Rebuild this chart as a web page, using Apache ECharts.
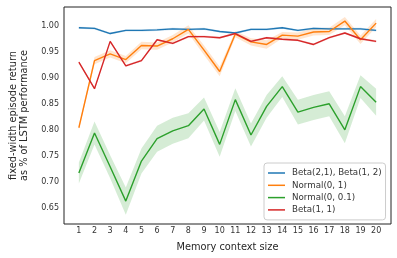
<!DOCTYPE html>
<html><head><meta charset="utf-8">
<script src="https://cdn.jsdelivr.net/npm/echarts@6/dist/echarts.min.js"></script>
<style>html,body{margin:0;padding:0;background:#fff}#c{width:397px;height:258px}</style>
</head><body><div id="c"></div>
<script>
const contextSizes = [1,2,3,4,5,6,7,8,9,10,11,12,13,14,15,16,17,18,19,20];
const xTicks = contextSizes;
const yTicks = [0.65,0.70,0.75,0.80,0.85,0.90,0.95,1.00];
const seriesNames = ['Beta(2,1), Beta(1, 2)','Normal(0, 1)','Normal(0, 0.1)','Beta(1, 1)'];
const betaAsym = [0.997,0.996,0.986,0.992,0.992,0.993,0.995,0.994,0.995,0.990,0.987,0.994,0.994,0.997,0.992,0.996,0.995,0.995,0.995,0.992];
const betaAsymCI = [0.002,0.002,0.002,0.002,0.002,0.002,0.002,0.002,0.002,0.002,0.002,0.002,0.002,0.002,0.002,0.002,0.002,0.002,0.002,0.002];
const normal1 = [0.805,0.934,0.947,0.936,0.963,0.962,0.976,0.994,0.954,0.913,0.985,0.970,0.965,0.983,0.981,0.989,0.990,1.010,0.974,1.006];
const normal1CI = [0.004,0.007,0.007,0.007,0.007,0.007,0.007,0.008,0.009,0.009,0.006,0.007,0.008,0.006,0.007,0.007,0.007,0.008,0.008,0.008];
const normal01 = [0.718,0.795,0.730,0.664,0.741,0.784,0.799,0.809,0.841,0.773,0.859,0.791,0.846,0.884,0.835,0.844,0.851,0.801,0.884,0.854];
const normal01CI = [0.020,0.022,0.022,0.026,0.024,0.025,0.025,0.024,0.022,0.024,0.022,0.022,0.022,0.020,0.024,0.024,0.024,0.026,0.022,0.026];
const beta11 = [0.931,0.880,0.971,0.924,0.934,0.974,0.967,0.980,0.980,0.978,0.986,0.971,0.978,0.975,0.973,0.965,0.978,0.987,0.976,0.971];
const beta11CI = [0.002,0.002,0.002,0.002,0.002,0.002,0.002,0.002,0.002,0.002,0.002,0.002,0.002,0.002,0.002,0.002,0.002,0.002,0.002,0.002];
const colors = ['#1f77b4','#ff7f0e','#2ca02c','#d62728'];

const means = [betaAsym, normal1, normal01, beta11];
const cis = [betaAsymCI, normal1CI, normal01CI, beta11CI];

const chart = echarts.init(document.getElementById('c'), null, {renderer:'canvas'});
const series = [];
means.forEach((m, k) => {
  const bandData = contextSizes.map((x, i) => [x, m[i] - cis[k][i], m[i] + cis[k][i]]);
  series.push({
    type: 'custom',
    name: seriesNames[k] + ' ci',
    z: 1,
    silent: true,
    data: bandData,
    encode: {x: 0, y: [1, 2]},
    renderItem: function (params, api) {
      if (params.dataIndex !== 0) return;
      const upper = bandData.map(d => api.coord([d[0], d[2]]));
      const lower = bandData.map(d => api.coord([d[0], d[1]])).reverse();
      return {
        type: 'polygon',
        shape: {points: upper.concat(lower)},
        style: {fill: colors[k], opacity: 0.2}
      };
    }
  });
});
means.forEach((m, k) => {
  series.push({
    type: 'line',
    name: seriesNames[k],
    z: 3,
    symbol: 'none',
    data: contextSizes.map((x, i) => [x, m[i]]),
    lineStyle: {color: colors[k], width: 1.4},
    itemStyle: {color: colors[k]}
  });
});

chart.setOption({
  animation: false,
  grid: {left: 57, right: 6, top: 7, bottom: 34, show: true, borderColor: '#222', borderWidth: 1, backgroundColor: 'transparent'},
  xAxis: {
    type: 'value', min: 0.05, max: 20.95,
    name: 'Memory context size', nameLocation: 'middle', nameGap: 18,
    nameTextStyle: {fontFamily: 'DejaVu Sans', fontSize: 9.8, color: '#262626'},
    axisLine: {show: false}, axisTick: {show: false}, splitLine: {show: false},
    axisLabel: {customValues: xTicks, fontFamily: 'DejaVu Sans', fontSize: 8, color: '#333', margin: 3,
      formatter: v => String(Math.round(v))}
  },
  yAxis: {
    type: 'value', min: 0.620, max: 1.037,
    name: 'fixed-width episode return\nas % of LSTM performance', nameLocation: 'middle', nameGap: 34, nameRotate: 90,
    nameTextStyle: {fontFamily: 'DejaVu Sans', fontSize: 9.8, color: '#262626', lineHeight: 11},
    axisLine: {show: false}, axisTick: {show: false}, splitLine: {show: false},
    axisLabel: {customValues: yTicks, fontFamily: 'DejaVu Sans', fontSize: 8, color: '#333', margin: 5,
      formatter: v => v.toFixed(2)}
  },
  legend: {
    data: seriesNames,
    orient: 'vertical', left: 264, top: 163,
    icon: 'rect', itemWidth: 17, itemHeight: 1.5, itemGap: 2.3,
    padding: [5, 4, 5, 4],
    backgroundColor: '#fff', borderColor: '#ccc', borderWidth: 1, borderRadius: 3,
    textStyle: {fontFamily: 'DejaVu Sans', fontSize: 8.7, color: '#333', lineHeight: 10, padding: [0, 0, 0, 2]}
  },
  series: series
});
</script></body></html>
